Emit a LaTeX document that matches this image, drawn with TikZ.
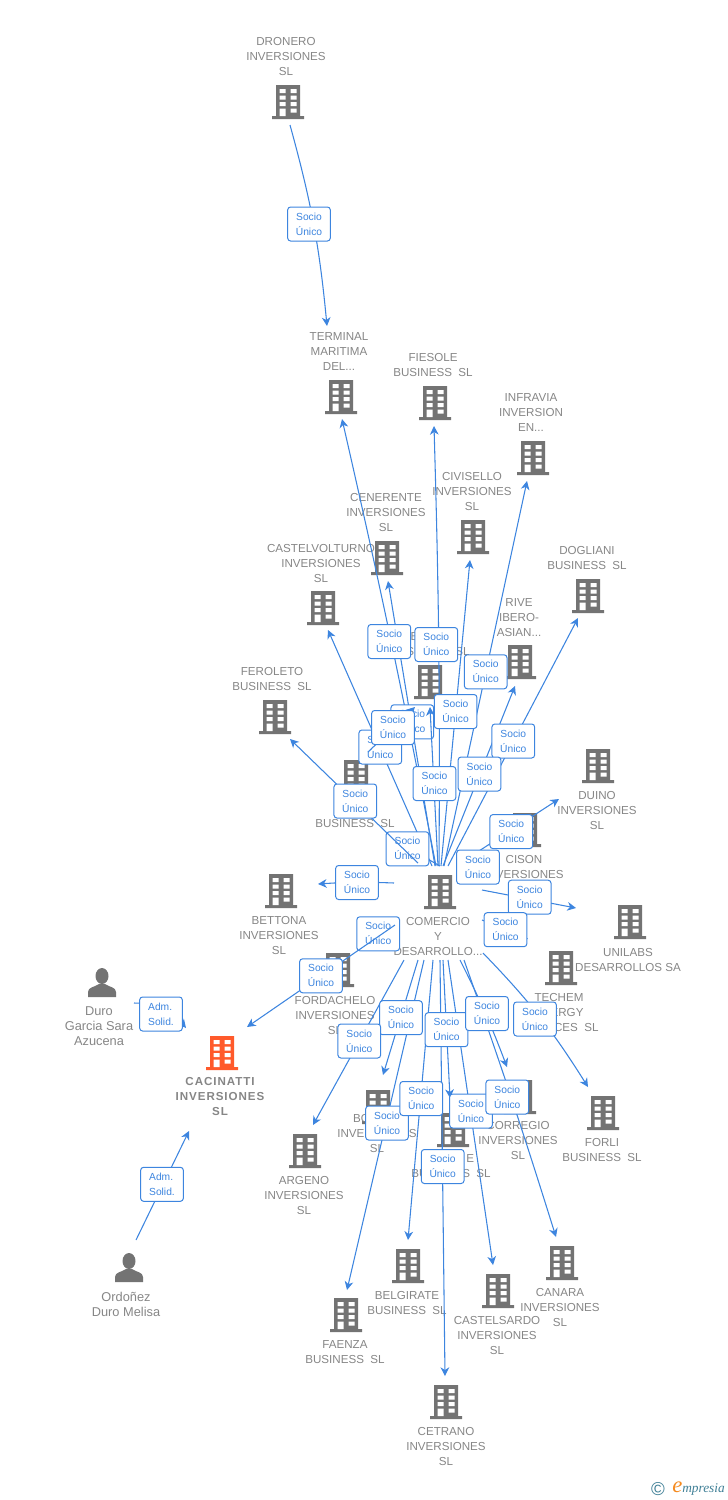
\documentclass[tikz,border=0pt]{standalone}
\usepackage{fontspec}
\setmainfont{Liberation Sans}
\newfontfamily\logofont{Liberation Serif}
\usetikzlibrary{arrows.meta}
\definecolor{firmgray}{HTML}{737373}
\definecolor{textgray}{HTML}{868686}
\definecolor{linkblue}{HTML}{3D85DF}
\definecolor{mainorange}{HTML}{FF5A2B}
\definecolor{logoteal}{HTML}{3F7F96}
\definecolor{logoorange}{HTML}{F58A1F}
\newcommand{\towershape}[1]{%
  \begin{scope}[shift={(path picture bounding box.center)}]
    \fill[#1] (-12,-17) rectangle (12,14) (-16,14) rectangle (16,17);
    \fill[white] (-8.5,-13) rectangle (-2.5,-9) (2.5,-13) rectangle (8.5,-9)
      (-8.5,-6.5) rectangle (-2.5,-2.5) (2.5,-6.5) rectangle (8.5,-2.5)
      (-8.5,0) rectangle (-2.5,4) (2.5,0) rectangle (8.5,4)
      (-8.5,6.5) rectangle (-2.5,14) (2.5,6.5) rectangle (8.5,10.5);
  \end{scope}}
\newcommand{\personshape}{%
  \begin{scope}[shift={(path picture bounding box.center)}]
    \fill[firmgray] (0,-7) ellipse (6.5 and 8);
    \fill[firmgray] (-14,14) -- (-14,9) .. controls (-14,4) and (-7,4) .. (-3,1)
      -- (3,1) .. controls (7,4) and (14,4) .. (14,9) -- (14,14) -- cycle;
  \end{scope}}
\begin{document}
\begin{tikzpicture}[x=0.75pt,y=-0.75pt]
  \tikzstyle{firm}=[minimum width=24pt,minimum height=26pt,inner sep=0pt,
    path picture={\towershape{firmgray}}]
  \tikzstyle{mainfirm}=[minimum width=24pt,minimum height=26pt,inner sep=0pt,
    path picture={\towershape{mainorange}}]
  \tikzstyle{person}=[minimum width=22pt,minimum height=24pt,inner sep=0pt,
    path picture={\personshape}]
  \tikzstyle{firmtext}=[text=textgray,align=center,inner sep=0pt,
    font=\fontsize{8.7}{11.25}\selectfont]
  \tikzstyle{persontext}=[firmtext,font=\fontsize{9.6}{11.25}\selectfont]
  \tikzstyle{maintext}=[firmtext,
    font=\fontsize{8.7}{11.25}\selectfont\bfseries\addfontfeature{LetterSpace=8}]
  \tikzstyle{link}=[draw=linkblue,line width=0.8pt,
    -{Stealth[length=6.5pt,width=6.5pt,inset=2pt]}]
  \tikzstyle{socio}=[draw=linkblue,fill=white,rounded corners=2.2pt,line width=0.75pt,
    text=linkblue,align=center,inner sep=0pt,minimum width=32pt,minimum height=25.5pt,
    font=\fontsize{7.7}{11.25}\selectfont]
  \tikzstyle{adm}=[socio,align=left]
  \useasboundingbox (0,0) rectangle (728,1500);

  \node[firm] (dronero) at (288,102) {};
  \node[firmtext] (dronerotext) at (286,57) {DRONERO\\INVERSIONES\\SL};
  \node[firm] (terminal) at (341,397) {};
  \node[firmtext] (terminaltext) at (339,352) {TERMINAL\\MARITIMA\\DEL...};
  \node[firm] (fiesole) at (435,403) {};
  \node[firmtext] (fiesoletext) at (433,365) {FIESOLE\\BUSINESS\ \ SL};
  \node[firm] (infravia) at (533,458) {};
  \node[firmtext] (infraviatext) at (531,413) {INFRAVIA\\INVERSION\\EN...};
  \node[firm] (civisello) at (473,537) {};
  \node[firmtext] (civisellotext) at (472,491) {CIVISELLO\\INVERSIONES\\SL};
  \node[firm] (cenerente) at (387,558) {};
  \node[firmtext] (cenerentetext) at (386,512) {CENERENTE\\INVERSIONES\\SL};
  \node[firm] (castelvolturno) at (323,608) {};
  \node[firmtext] (castelvolturnotext) at (321,563) {CASTELVOLTURNO\\INVERSIONES\\SL};
  \node[firm] (dogliani) at (588,596) {};
  \node[firmtext] (doglianitext) at (587,558) {DOGLIANI\\BUSINESS\ \ SL};
  \node[firm] (rive) at (520,662) {};
  \node[firmtext] (rivetext) at (519,618) {RIVE\\IBERO-\\ASIAN...};
  \node[firm] (hiddena) at (430,682) {};
  \node[firmtext] (hiddenatext) at (430,644) {\phantom{XX}B\phantom{XXXXXX}\\BUSINESS\ \ SL};
  \node[firm] (feroleto) at (275,717) {};
  \node[firmtext] (feroletotext) at (272,679) {FEROLETO\\BUSINESS\ \ SL};
  \node[firm] (hiddenb) at (356,777) {};
  \node[firmtext] (hiddenbtext) at (355,823) {BUSINESS\ \ SL};
  \node[firm] (duino) at (598,766) {};
  \node[firmtext] (duinotext) at (597,810) {DUINO\\INVERSIONES\\SL};
  \node[firm] (cison) at (525,830) {};
  \node[firmtext] (cisontext) at (524,874) {CISON\\INVERSIONES\\SL};
  \node[firm] (comercio) at (440,892) {};
  \node[firmtext] (comerciotext) at (438,936) {COMERCIO\\Y\\DESARROLLO...};
  \node[firm] (bettona) at (281,891) {};
  \node[firmtext] (bettonatext) at (279,935) {BETTONA\\INVERSIONES\\SL};
  \node[firm] (unilabs) at (630,922) {};
  \node[firmtext] (unilabstext) at (628,960) {UNILABS\\DESARROLLOS SA};
  \node[firm] (fordachelo) at (338,970) {};
  \node[firmtext] (fordachelotext) at (335,1015) {FORDACHELO\\INVERSIONES\\SL};
  \node[firm] (techem) at (561,968) {};
  \node[firmtext] (techemtext) at (559,1012) {TECHEM\\ENERGY\\SERVICES\ \ SL};
  \node[mainfirm] (cacinatti) at (222,1053) {};
  \node[maintext] (cacinattitext) at (220,1096) {CACINATTI\\INVERSIONES\\SL};
  \node[firm] (forli) at (603,1113) {};
  \node[firmtext] (forlitext) at (602,1150) {FORLI\\BUSINESS\ \ SL};
  \node[firm] (argeno) at (305,1151) {};
  \node[firmtext] (argenotext) at (304,1195) {ARGENO\\INVERSIONES\\SL};
  \node[firm] (borgo) at (378,1107) {};
  \node[firmtext] (borgotext) at (377,1133) {BO\phantom{XXXX}\\INVERSIONES\\SL};
  \node[firm] (bridge) at (453,1130) {};
  \node[firmtext] (bridgetext) at (451,1166) {\phantom{XXXXX}E\\BUSINESS\ \ SL};
  \node[firm] (correggio) at (520,1097) {};
  \node[firmtext] (correggiotext) at (518,1140) {CORREGIO\\INVERSIONES\\SL};
  \node[firm] (canara) at (562,1263) {};
  \node[firmtext] (canaratext) at (560,1307) {CANARA\\INVERSIONES\\SL};
  \node[firm] (belgirate) at (408,1266) {};
  \node[firmtext] (belgiratetext) at (407,1303) {BELGIRATE\\BUSINESS\ \ SL};
  \node[firm] (castelsardo) at (498,1291) {};
  \node[firmtext] (castelsardotext) at (497,1335) {CASTELSARDO\\INVERSIONES\\SL};
  \node[firm] (faenza) at (346,1315) {};
  \node[firmtext] (faenzatext) at (345,1352) {FAENZA\\BUSINESS\ \ SL};
  \node[firm] (cetrano) at (446,1402) {};
  \node[firmtext] (cetranotext) at (446,1446) {CETRANO\\INVERSIONES\\SL};
  \node[person] (duro) at (102,983) {};
  \node[persontext] (durotext) at (99,1026) {Duro\\Garcia Sara\\Azucena};
  \node[person] (ordonez) at (129,1268) {};
  \node[persontext] (ordoneztext) at (126,1304) {Ordoñez\\Duro Melisa};

  \coordinate (hubtop) at (440,866);
  \coordinate (hubbot) at (440,960);
  \coordinate (dronerofoot) at (290,125);
  \coordinate (terminalin) at (327,326);
  \coordinate (terminalfoot) at (342,419);
  \coordinate (fiesolefoot) at (434,426);
  \coordinate (infraviafoot) at (527,481);
  \coordinate (civisellofoot) at (470,560);
  \coordinate (cenerentefoot) at (388,581);
  \coordinate (castelfoot) at (328,630);
  \coordinate (doglianifoot) at (578,618);
  \coordinate (rivefoot) at (515,686);
  \coordinate (hiddenafoot) at (430,707);
  \coordinate (hiddenaside) at (415,707);
  \coordinate (hiddenbside) at (368,752);
  \coordinate (hiddenbin) at (398,842);
  \coordinate (feroletofoot) at (290,739);
  \coordinate (feroletofrom) at (418,863);
  \coordinate (duinoin) at (559,799);
  \coordinate (duinofrom) at (462,862);
  \coordinate (cisonfrom) at (458,866);
  \coordinate (cisonin) at (498,866);
  \coordinate (unilabsfrom) at (482,890);
  \coordinate (unilabsin) at (576,908);
  \coordinate (techemfrom) at (482,920);
  \coordinate (techemin) at (528,939);
  \coordinate (bettonafrom) at (394,883);
  \coordinate (bettonain) at (318,884);
  \coordinate (hubwest) at (395,925);
  \coordinate (fordacheloin) at (362,941);
  \coordinate (cacinattiin) at (247,1027);
  \coordinate (forlifrom) at (483,953);
  \coordinate (forliin) at (588,1087);
  \coordinate (argenoin) at (313,1125);
  \coordinate (borgoin) at (383,1075);
  \coordinate (faenzain) at (347,1290);
  \coordinate (belgiratein) at (408,1240);
  \coordinate (cetranoin) at (445,1376);
  \coordinate (bridgein) at (450,1098);
  \coordinate (castelsardoin) at (493,1265);
  \coordinate (correggioin) at (507,1067);
  \coordinate (canarain) at (556,1237);
  \coordinate (durofrom) at (134,1003);
  \coordinate (duroin) at (186,1028);
  \coordinate (ordonezfrom) at (136,1240);
  \coordinate (ordonezin) at (189,1131);

  \draw[link] (dronerofoot) to [bend left=5] (terminalin);
  \draw[link] ([shift={(-8,0)}]hubtop) to (castelfoot);
  \draw[link] ([shift={(-5,0)}]hubtop) to (cenerentefoot);
  \draw[link] ([shift={(-4,0)}]hubtop) to [bend right=1] (terminalfoot);
  \draw[link] ([shift={(-1,0)}]hubtop) to [bend right=1] (fiesolefoot);
  \draw[link] ([shift={(1,0)}]hubtop) to (civisellofoot);
  \draw[link] ([shift={(3,0)}]hubtop) to (rivefoot);
  \draw[link] ([shift={(4,0)}]hubtop) to (infraviafoot);
  \draw[link] ([shift={(8,0)}]hubtop) to (doglianifoot);
  \draw[link] (hubtop) to (hiddenbin);
  \draw[link] (duinofrom) to (duinoin);
  \draw[link] (cisonfrom) to (cisonin);
  \draw[link] (unilabsfrom) to (unilabsin);
  \draw[link] (techemfrom) to (techemin);
  \draw[link] (bettonafrom) to [bend right=3] (bettonain);
  \draw[link] (hubwest) to (fordacheloin);
  \draw[link] (forlifrom) to [bend left=6] (forliin);
  \draw[link] ([shift={(-22,0)}]hubbot) to (borgoin);
  \draw[link] ([shift={(-36,0)}]hubbot) to (argenoin);
  \draw[link] ([shift={(3,0)}]hubbot) to (bridgein);
  \draw[link] ([shift={(20,0)}]hubbot) to [bend left=3] (correggioin);
  \draw[link] ([shift={(-16,0)}]hubbot) to (faenzain);
  \draw[link] ([shift={(-7,0)}]hubbot) to (belgiratein);
  \draw[link] ([shift={(8,0)}]hubbot) to (castelsardoin);
  \draw[link] ([shift={(24,0)}]hubbot) to [bend left=1] (canarain);
  \draw[link] (hubbot) to (cetranoin);
  \draw[link] (durofrom) to [bend left=25] (duroin);
  \draw[link] (ordonezfrom) to (ordonezin);

  \node[socio] (sociocenerente) at (412.3,721.8) {Socio\\Único};
  \node[socio] (sociocastel) at (380.3,747) {Socio\\Único};
  \node[socio] (sociobusiness) at (407.5,848.8) {Socio\\Único};
  \node[socio] (sociofordachelo) at (378.2,933.8) {Socio\\Único};

  \draw[link] (hiddenbside) to (hiddenaside);
  \draw[link] ([shift={(-2,0)}]hubtop) to (hiddenafoot);
  \draw[link] (feroletofrom) to (feroletofoot);
  \draw[link] (hubwest) to (cacinattiin);

  \node[socio] (sociodronero) at (309,224) {Socio\\Único};
  \node[socio] (socioterminal) at (389.3,641.5) {Socio\\Único};
  \node[socio] (sociofiesole) at (436.3,644.5) {Socio\\Único};
  \node[socio] (socioinfravia) at (485.7,671.8) {Socio\\Único};
  \node[socio] (sociocivisello) at (455.6,711.5) {Socio\\Único};
  \node[socio] (sociodogliani) at (513.3,741) {Socio\\Único};
  \node[socio] (sociorive) at (479.5,774) {Socio\\Único};
  \node[socio] (sociohiddena) at (434.5,783.5) {Socio\\Único};
  \node[socio] (sociohiddenb) at (393,727.5) {Socio\\Único};
  \node[socio] (socioferoleto) at (355.3,801) {Socio\\Único};
  \node[socio] (socioduino) at (511.3,831.6) {Socio\\Único};
  \node[socio] (sociocison) at (478,867) {Socio\\Único};
  \node[socio] (sociobettona) at (357,882.5) {Socio\\Único};
  \node[socio] (sociounilabs) at (529.7,897.2) {Socio\\Único};
  \node[socio] (sociotechem) at (505.5,929.7) {Socio\\Único};
  \node[socio] (sociocacinatti) at (321,975.8) {Socio\\Único};
  \node[socio] (socioborgo) at (401,1017.7) {Socio\\Único};
  \node[socio] (socioargeno) at (359.3,1041) {Socio\\Único};
  \node[socio] (sociobridge) at (446.5,1029.7) {Socio\\Único};
  \node[socio] (sociocorreggio) at (487,1013.5) {Socio\\Único};
  \node[socio] (socioforli) at (535,1019) {Socio\\Único};
  \node[socio] (sociofaenza) at (387,1123) {Socio\\Único};
  \node[socio] (sociobelgirate) at (421.3,1098.5) {Socio\\Único};
  \node[socio] (sociocastelsardo) at (471,1111) {Socio\\Único};
  \node[socio] (sociocanara) at (507.3,1097) {Socio\\Único};
  \node[socio] (sociocetrano) at (442.7,1166.5) {Socio\\Único};
  \node[adm] (admduro) at (161,1014) {Adm.\\Solid.};
  \node[adm] (admordonez) at (162,1184.3) {Adm.\\Solid.};

  \node[inner sep=0pt,text=logoteal,font=\fontsize{14}{14}\selectfont] (logomark) at (658,1489) {©};
  \node[inner sep=0pt,anchor=west,text=logoteal,font=\logofont\itshape\fontsize{10}{10}\selectfont]
    (logotext) at (672,1489) {{\color{logoorange}\fontsize{17}{10}\selectfont e}mpresia};
\end{tikzpicture}
\end{document}
